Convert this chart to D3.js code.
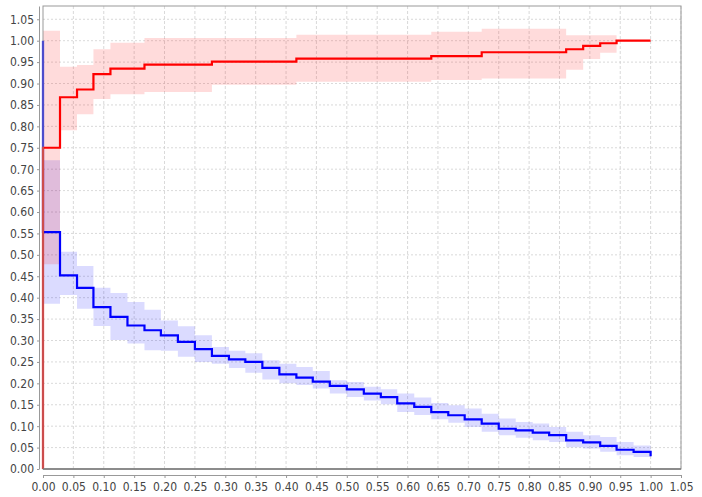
<!DOCTYPE html>
<html>
<head>
<meta charset="utf-8">
<script src="https://cdn.jsdelivr.net/npm/d3@7"></script>
<style>
  body { margin: 0; background: #fff; }
  .tick text { font-family: "Liberation Sans Narrow", "Arial Narrow", "DejaVu Sans Condensed", sans-serif; font-size: 12px; fill: #444; }
</style>
</head>
<body>
<script>
// red series: step positions, values and the pink band around it
const redX  = [0, 0.028, 0.056, 0.083, 0.111, 0.167, 0.278, 0.417, 0.639, 0.722, 0.861, 0.889, 0.917, 0.944, 1.0];
const redY  = [0.75, 0.868, 0.886, 0.922, 0.935, 0.944, 0.951, 0.958, 0.964, 0.973, 0.980, 0.988, 0.994, 1.0, 1.0];
const redLo = [0.478, 0.791, 0.828, 0.864, 0.875, 0.880, 0.897, 0.904, 0.908, 0.912, 0.932, 0.957, 0.972, 1.0, 1.0];
const redHi = [1.023, 0.939, 0.943, 0.980, 0.995, 1.006, 1.006, 1.014, 1.021, 1.028, 1.013, 1.013, 1.013, 1.0, 1.0];
const redStartY = 0;

// blue series
const blueX  = [0, 0.028, 0.056, 0.083, 0.111, 0.139, 0.167, 0.194, 0.222, 0.25, 0.278, 0.306, 0.333, 0.361, 0.389, 0.417, 0.444, 0.472,
                0.5, 0.528, 0.556, 0.583, 0.611, 0.639, 0.667, 0.694, 0.722, 0.75, 0.778, 0.806, 0.833, 0.861, 0.889, 0.917, 0.944, 0.972, 1.0];
const blueY  = [0.553, 0.452, 0.423, 0.378, 0.355, 0.335, 0.324, 0.312, 0.297, 0.280, 0.264, 0.256, 0.250, 0.236, 0.221, 0.2135, 0.204, 0.194,
                0.186, 0.176, 0.168, 0.153, 0.145, 0.133, 0.1255, 0.116, 0.106, 0.094, 0.090, 0.085, 0.079, 0.067, 0.062, 0.054, 0.045, 0.040, 0.030];
const blueLo = [0.386, 0.406, 0.374, 0.334, 0.301, 0.293, 0.277, 0.276, 0.262, 0.25, 0.246, 0.236, 0.225, 0.209, 0.200, 0.196, 0.188, 0.176,
                0.168, 0.160, 0.151, 0.133, 0.126, 0.116, 0.108, 0.098, 0.087, 0.079, 0.073, 0.067, 0.063, 0.051, 0.048, 0.040, 0.032, 0.028, 0.028];
const blueHi = [0.721, 0.507, 0.474, 0.423, 0.411, 0.39, 0.372, 0.347, 0.333, 0.312, 0.285, 0.276, 0.27, 0.254, 0.246, 0.238, 0.229, 0.207,
                0.203, 0.192, 0.186, 0.176, 0.167, 0.154, 0.149, 0.141, 0.129, 0.118, 0.110, 0.106, 0.098, 0.087, 0.079, 0.075, 0.063, 0.055, 0.055];
const blueStartY = 1.0;

const tickValues = d3.range(0, 21.5).map(i => i * 0.05);

const width = 702, height = 497;
const margin = {left: 43, right: 21, top: 6, bottom: 28};

const svg = d3.select("body").append("svg")
    .attr("width", width)
    .attr("height", height);

const x = d3.scaleLinear().domain([0, 1.05]).range([margin.left, width - margin.right]);
const y = d3.scaleLinear().domain([0, 1.081]).range([height - margin.bottom, margin.top]);

// grid
svg.append("g")
    .selectAll("line")
    .data(tickValues.slice(1))
    .join("line")
    .attr("x1", d => x(d)).attr("x2", d => x(d))
    .attr("y1", y.range()[1]).attr("y2", y.range()[0])
    .attr("stroke", "#cfcfcf").attr("stroke-width", 0.8).attr("stroke-dasharray", "3,2");

svg.append("g")
    .selectAll("line")
    .data(tickValues.slice(1))
    .join("line")
    .attr("x1", x.range()[0]).attr("x2", x.range()[1])
    .attr("y1", d => y(d)).attr("y2", d => y(d))
    .attr("stroke", "#cfcfcf").attr("stroke-width", 0.8).attr("stroke-dasharray", "2,2");

const area = d3.area()
    .x(d => x(d.x))
    .y0(d => y(d.lo))
    .y1(d => y(d.hi))
    .curve(d3.curveStepAfter);

const line = d3.line()
    .x(d => x(d[0]))
    .y(d => y(d[1]))
    .curve(d3.curveStepAfter);

const blueBand = blueX.map((v, i) => ({x: v, lo: blueLo[i], hi: blueHi[i]}));
const redBand = redX.map((v, i) => ({x: v, lo: redLo[i], hi: redHi[i]}));

svg.append("path").datum(blueBand).attr("d", area).attr("fill", "rgba(0,0,255,0.14)");
svg.append("path").datum(redBand).attr("d", area).attr("fill", "rgba(255,0,0,0.14)");

const bluePts = [[0, blueStartY]].concat(blueX.map((v, i) => [v, blueY[i]]));
const redPts = [[0, redStartY]].concat(redX.map((v, i) => [v, redY[i]]));

svg.append("path").datum(bluePts).attr("d", line)
    .attr("fill", "none").attr("stroke", "#0000ff").attr("stroke-width", 2.2);
svg.append("path").datum(redPts).attr("d", line)
    .attr("fill", "none").attr("stroke", "#ff0000").attr("stroke-width", 2.2);

// plot frame
svg.append("rect")
    .attr("x", x.range()[0]).attr("y", y.range()[1])
    .attr("width", x.range()[1] - x.range()[0])
    .attr("height", y.range()[0] - y.range()[1])
    .attr("fill", "none").attr("stroke", "#999");
svg.append("line")
    .attr("x1", x.range()[0]).attr("x2", x.range()[1])
    .attr("y1", y.range()[0]).attr("y2", y.range()[0])
    .attr("stroke", "#777").attr("stroke-width", 1.5);

// axes, offset from the plot like the original
const xAxis = svg.append("g")
    .attr("transform", `translate(0,${y.range()[0] + 6})`)
    .call(d3.axisBottom(x).tickValues(tickValues).tickFormat(d3.format(".2f")).tickSize(3).tickSizeOuter(0).tickPadding(4));

const yAxis = svg.append("g")
    .attr("transform", `translate(${x.range()[0] - 4},0)`)
    .call(d3.axisLeft(y).tickValues(tickValues).tickFormat(d3.format(".2f")).tickSize(2).tickSizeOuter(0).tickPadding(3));

[xAxis, yAxis].forEach(g => {
  g.select(".domain").attr("stroke", "#999");
  g.selectAll(".tick line").attr("stroke", "#999");
});
</script>
</body>
</html>
